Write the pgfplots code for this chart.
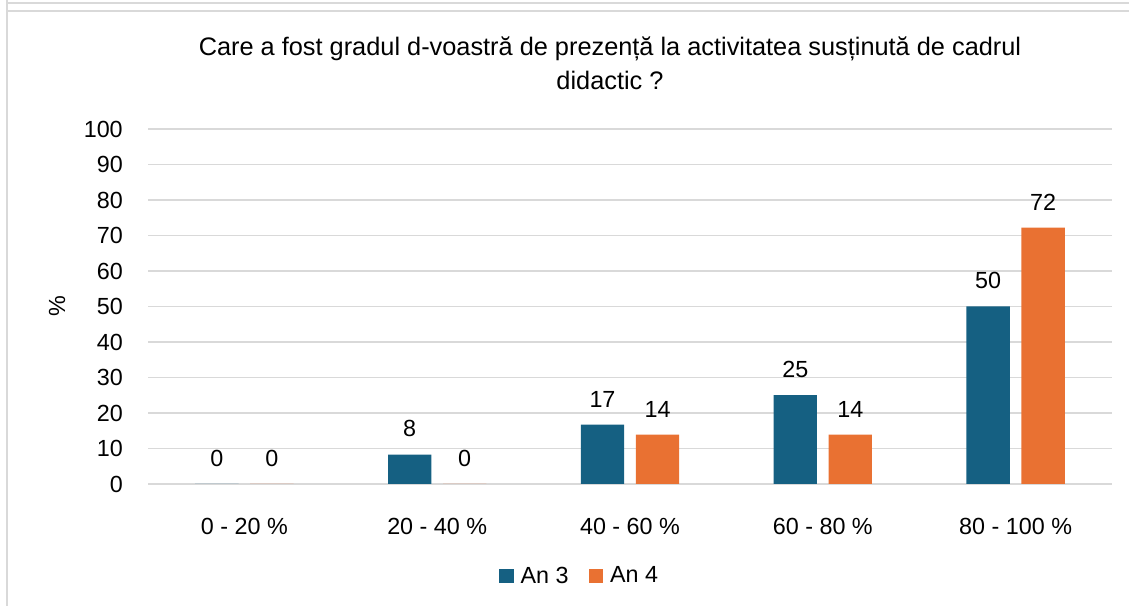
\documentclass[border=0pt]{standalone}
\usepackage{fontspec}
\setmainfont{Liberation Sans}
\usepackage{pgfplots}
\pgfplotsset{compat=1.18}
\definecolor{anblue}{HTML}{156082}
\definecolor{anorange}{HTML}{E97132}
\definecolor{gridgray}{HTML}{D9D9D9}
\newcommand{\cf}{\fontsize{17.5}{21}\selectfont}
\begin{document}
\begin{tikzpicture}
\path[use as bounding box] (0,0) rectangle (846.75pt,454.5pt);
\draw[gridgray, line width=1.5pt] (5.25pt,451.9pt) -- (846.75pt,451.9pt);
\draw[gridgray, line width=1.5pt] (5.25pt,445.9pt) -- (846.75pt,445.9pt);
\draw[gridgray, line width=1.5pt] (5.25pt,0pt) -- (5.25pt,454.5pt);
\node[align=center, font=\fontsize{19}{25.5}\selectfont] at (457.5pt,407.25pt)
  {Care a fost gradul d-voastră de prezență la activitatea susținută de cadrul\\didactic ?};
\begin{axis}[
  at={(111pt,91.5pt)}, anchor=south west,
  scale only axis, width=723pt, height=266.25pt,
  xmin=-0.5, xmax=4.5, ymin=0, ymax=100,
  xtick={0,1,2,3,4},
  xticklabels={0 - 20 \%, 20 - 40 \%, 40 - 60 \%, 60 - 80 \%, 80 - 100 \%},
  ytick={0,10,...,100},
  ymajorgrids,
  grid style={gridgray, line width=1.1pt},
  axis line style={draw=none},
  tick style={draw=none},
  /pgf/number format/assume math mode=true,
  ticklabel style={font=\cf},
  yticklabel style={inner sep=0pt, xshift=-18.75pt},
  xticklabel style={inner sep=0pt, yshift=-21pt, anchor=north},
  ylabel={\%},
  ylabel style={at={(axis description cs:-0.0944,0.5)}, anchor=center, rotate=0, font=\cf},
  ybar=8.75pt, bar width=32.5pt,
  nodes near coords={\pgfmathprintnumber[fixed,precision=0]{\pgfplotspointmeta}},
  every node near coord/.append style={font=\cf, inner sep=0pt, anchor=south, yshift=13pt, text=black},
  legend columns=2,
  legend style={at={(axis description cs:0.4466,-0.259)}, anchor=center, draw=none, font=\cf,
    nodes={inner sep=0pt},
    /tikz/every odd column/.append style={column sep=5.25pt},
    /tikz/every even column/.append style={column sep=15pt}},
  legend image code/.code={\fill[#1] (0pt,-5.5pt) rectangle (11pt,5.5pt);},
]
\addplot[fill=anblue, draw=none] coordinates {(0,0) (1,8.3) (2,16.7) (3,25) (4,50)};
\addplot[fill=anorange, draw=none] coordinates {(0,0) (1,0) (2,13.9) (3,13.9) (4,72.2)};
\legend{An 3, An 4}
\end{axis}
\end{tikzpicture}
\end{document}
